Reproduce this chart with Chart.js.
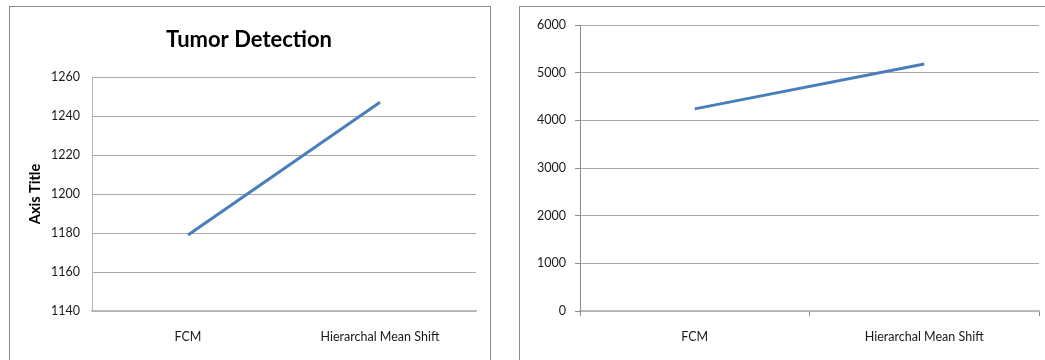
<!DOCTYPE html>
<html>
<head>
<meta charset="utf-8">
<script src="https://cdn.jsdelivr.net/npm/chart.js@4.4.1/dist/chart.umd.min.js"></script>
<style>
  html, body { margin: 0; padding: 0; background: #fff; width: 1045px; height: 360px; overflow: hidden; }
  .panel { position: absolute; top: 6px; height: 380px; border: 1px solid #8c8c8c; box-sizing: border-box; background: #fff; }
  #panelLeft { left: 9px; width: 482px; }
  #panelRight { left: 519px; width: 560px; }
  canvas { position: absolute; left: 0; top: 0; }
</style>
</head>
<body>
<div class="panel" id="panelLeft"><canvas id="chartLeft" width="480" height="353"></canvas></div>
<div class="panel" id="panelRight"><canvas id="chartRight" width="525" height="353"></canvas></div>
<script>
// Segmentation methods compared in both charts
const categories = ['FCM', 'Hierarchal Mean Shift'];

// Tumor detection results
const tumorDetection = [1179, 1247];
const tumorTicks = [1140, 1160, 1180, 1200, 1220, 1240, 1260];

// Second comparison of the same two methods
const methodTotals = [4240, 5180];
const totalTicks = [0, 1000, 2000, 3000, 4000, 5000, 6000];

const FONT = "Lato, 'DejaVu Sans Condensed', sans-serif";
const LINE_BLUE = '#4a7ebb';
const GRID_GREY = '#a9a9a9';

Chart.defaults.font.family = FONT;
Chart.defaults.color = '#1a1a1a';
Chart.defaults.animation = false;

function fixedWidth(w) { return scale => { scale.width = w; }; }
function fixedHeight(h) { return scale => { scale.height = h; }; }
const plainNumber = v => String(v);

// Left chart: titled, no tick marks
new Chart(document.getElementById('chartLeft'), {
  type: 'line',
  data: {
    labels: categories,
    datasets: [{
      data: tumorDetection,
      borderColor: LINE_BLUE,
      borderWidth: 3,
      pointRadius: 0,
      tension: 0,
      fill: false
    }]
  },
  options: {
    responsive: false,
    devicePixelRatio: 1,
    layout: { padding: { left: 12, right: 14, top: 0, bottom: 0 } },
    plugins: {
      legend: { display: false },
      tooltip: { enabled: false },
      title: {
        display: true,
        text: 'Tumor Detection',
        color: '#000',
        font: { family: FONT, size: 22, weight: 'bold' },
        padding: { top: 20, bottom: 23.6 }
      }
    },
    scales: {
      x: {
        offset: true,
        grid: { display: false, drawTicks: false },
        border: { display: true, color: '#bdbdbd', width: 1.5 },
        ticks: { padding: 18, font: { size: 12.5 }, maxRotation: 0 },
        afterFit: fixedHeight(49)
      },
      y: {
        min: tumorTicks[0],
        max: tumorTicks[tumorTicks.length - 1],
        ticks: { stepSize: tumorTicks[1] - tumorTicks[0], padding: 12, font: { size: 12.5 }, callback: plainNumber },
        grid: { color: GRID_GREY, lineWidth: 1, drawTicks: false },
        border: { display: true, color: '#b5b5b5', width: 1 },
        title: {
          display: true,
          text: 'Axis Title',
          color: '#000',
          font: { family: FONT, size: 14.5, weight: 'bold' },
          padding: { top: 5, bottom: 0 }
        },
        afterFit: fixedWidth(70)
      }
    }
  }
});

// Right chart: untitled, with tick marks on both axes
new Chart(document.getElementById('chartRight'), {
  type: 'line',
  data: {
    labels: categories,
    datasets: [{
      data: methodTotals,
      borderColor: LINE_BLUE,
      borderWidth: 3,
      pointRadius: 0,
      tension: 0,
      fill: false
    }]
  },
  options: {
    responsive: false,
    devicePixelRatio: 1,
    layout: { padding: { left: 0, right: 6, top: 18, bottom: 0 } },
    plugins: {
      legend: { display: false },
      tooltip: { enabled: false },
      title: { display: false }
    },
    scales: {
      x: {
        offset: true,
        grid: {
          display: true,
          offset: true,
          drawOnChartArea: false,
          drawTicks: true,
          tickLength: 5,
          tickColor: '#8c8c8c'
        },
        border: { display: true, color: '#bdbdbd', width: 1.5 },
        ticks: { padding: 13, font: { size: 12.5 }, maxRotation: 0 },
        afterFit: fixedHeight(49)
      },
      y: {
        min: totalTicks[0],
        max: totalTicks[totalTicks.length - 1],
        ticks: { stepSize: totalTicks[1] - totalTicks[0], padding: 9, font: { size: 12.5 }, callback: plainNumber },
        grid: { color: GRID_GREY, lineWidth: 1, drawTicks: true, tickLength: 5, tickColor: '#8c8c8c' },
        border: { display: true, color: '#8c8c8c', width: 1 },
        afterFit: fixedWidth(60)
      }
    }
  }
});
</script>
</body>
</html>
